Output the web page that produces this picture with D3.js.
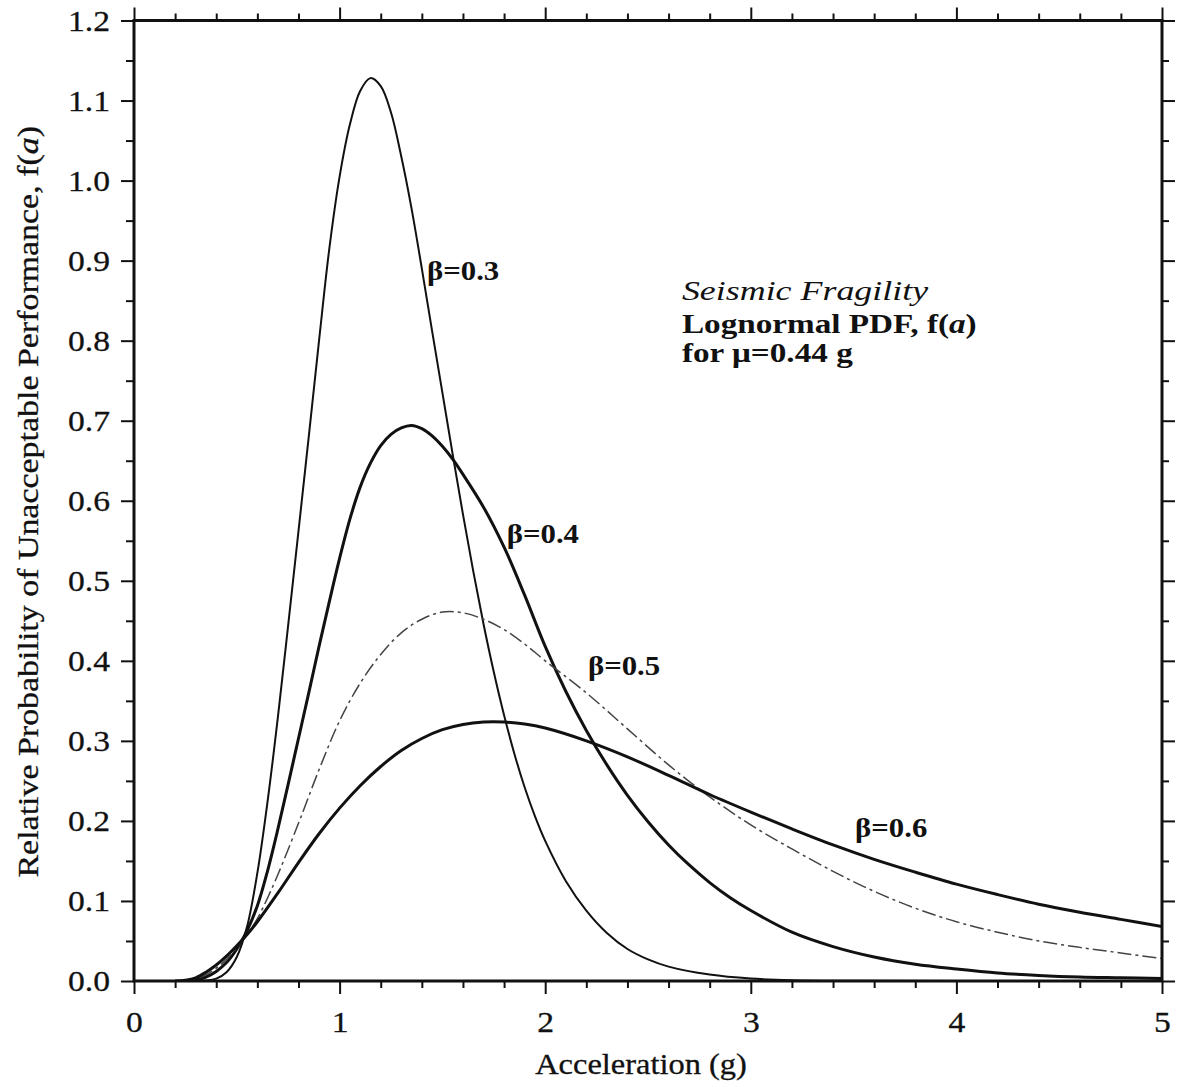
<!DOCTYPE html>
<html>
<head>
<meta charset="utf-8">
<script src="https://cdn.jsdelivr.net/npm/d3@7"></script>
<style>
  body { margin: 0; background: #fff; }
  text { font-family: "Liberation Serif", "Times New Roman", serif; fill: #111; }
</style>
</head>
<body>
<div id="chart"></div>
<script>
// values
const accel03 = [0.3, 0.35, 0.4, 0.45, 0.5, 0.55, 0.6, 0.65, 0.7, 0.75, 0.8, 0.85, 0.9, 0.95, 1.0, 1.05, 1.1, 1.15, 1.2, 1.25, 1.3, 1.35, 1.4, 1.45, 1.5, 1.55, 1.6, 1.65, 1.7, 1.75, 1.8, 1.85, 1.9, 1.95, 2.0, 2.1, 2.2, 2.3, 2.4, 2.5, 2.6, 2.8, 3.0, 3.2, 3.5, 4.0, 5.0];
const pdf03 = [0, 0.0005, 0.003, 0.011, 0.03, 0.068, 0.135, 0.225, 0.33, 0.445, 0.562, 0.68, 0.8, 0.915, 1.005, 1.07, 1.112, 1.128, 1.118, 1.085, 1.03, 0.965, 0.89, 0.812, 0.735, 0.658, 0.583, 0.512, 0.446, 0.386, 0.332, 0.284, 0.242, 0.206, 0.175, 0.125, 0.088, 0.06, 0.04, 0.027, 0.018, 0.008, 0.003, 0.001, 0.0003, 0, 0];

const accel04 = [0.25, 0.3, 0.35, 0.4, 0.45, 0.5, 0.55, 0.6, 0.65, 0.7, 0.75, 0.8, 0.85, 0.9, 0.95, 1.0, 1.05, 1.1, 1.15, 1.2, 1.25, 1.3, 1.35, 1.4, 1.45, 1.5, 1.55, 1.6, 1.7, 1.8, 1.9, 2.0, 2.1, 2.2, 2.3, 2.4, 2.5, 2.6, 2.7, 2.8, 2.9, 3.0, 3.2, 3.4, 3.6, 3.8, 4.0, 4.2, 4.4, 4.6, 4.8, 5.0];
const pdf04 = [0, 0.0015, 0.005, 0.012, 0.023, 0.04, 0.063, 0.094, 0.138, 0.19, 0.246, 0.303, 0.36, 0.418, 0.474, 0.528, 0.577, 0.617, 0.647, 0.669, 0.683, 0.691, 0.694, 0.69, 0.681, 0.668, 0.652, 0.633, 0.592, 0.542, 0.482, 0.418, 0.362, 0.313, 0.27, 0.232, 0.199, 0.17, 0.145, 0.123, 0.104, 0.088, 0.061, 0.043, 0.03, 0.021, 0.015, 0.01, 0.007, 0.005, 0.004, 0.003];

const accel05 = [0.2, 0.25, 0.3, 0.35, 0.4, 0.45, 0.5, 0.55, 0.6, 0.65, 0.7, 0.8, 0.9, 1.0, 1.1, 1.2, 1.3, 1.4, 1.5, 1.6, 1.7, 1.8, 1.9, 2.0, 2.2, 2.4, 2.6, 2.8, 3.0, 3.2, 3.4, 3.6, 3.8, 4.0, 4.2, 4.4, 4.6, 4.8, 5.0];
const pdf05 = [0, 0.0005, 0.003, 0.008, 0.016, 0.027, 0.042, 0.058, 0.078, 0.104, 0.133, 0.197, 0.264, 0.325, 0.372, 0.408, 0.435, 0.452, 0.461, 0.46, 0.452, 0.439, 0.421, 0.40, 0.36, 0.315, 0.27, 0.23, 0.195, 0.165, 0.137, 0.112, 0.091, 0.074, 0.061, 0.05, 0.042, 0.035, 0.028];

const accel06 = [0.2, 0.25, 0.3, 0.35, 0.4, 0.45, 0.5, 0.55, 0.6, 0.7, 0.8, 0.9, 1.0, 1.1, 1.2, 1.3, 1.4, 1.5, 1.6, 1.7, 1.8, 1.9, 2.0, 2.2, 2.4, 2.6, 2.8, 3.0, 3.2, 3.4, 3.6, 3.8, 4.0, 4.2, 4.4, 4.6, 4.8, 5.0];
const pdf06 = [0, 0.001, 0.004, 0.011, 0.02, 0.031, 0.044, 0.058, 0.074, 0.11, 0.148, 0.184, 0.216, 0.244, 0.268, 0.288, 0.303, 0.314, 0.3205, 0.3235, 0.3235, 0.321, 0.316, 0.3, 0.28, 0.257, 0.233, 0.211, 0.19, 0.17, 0.152, 0.136, 0.121, 0.108, 0.096, 0.086, 0.077, 0.068];

const seriesNames = ["β=0.3", "β=0.4", "β=0.5", "β=0.6"];
const xTickValues = [0, 1, 2, 3, 4, 5];
const yTickValues = [0, 0.1, 0.2, 0.3, 0.4, 0.5, 0.6, 0.7, 0.8, 0.9, 1.0, 1.1, 1.2];

function initChart() {
    const margin = { top: 20.5, right: 30, bottom: 106, left: 134 },
        width = 1192 - margin.left - margin.right,
        height = 1087 - margin.top - margin.bottom;

    const svg = d3.select("#chart")
        .append("svg")
        .attr("width", width + margin.left + margin.right)
        .attr("height", height + margin.top + margin.bottom)
        .append("g")
        .attr("transform", "translate(" + margin.left + "," + margin.top + ")");

    const xScale = d3.scaleLinear().domain([0, 5]).range([0, width]);
    const yScale = d3.scaleLinear().domain([0, 1.2]).range([height, 0]);

    const xMinor = d3.range(0, 5.001, 0.2).filter(v => Math.abs(v - Math.round(v)) > 1e-6);
    const yMinor = d3.range(0.05, 1.2, 0.1);

    function tickStyle(g) {
        g.select(".domain").remove();
        g.selectAll("line").attr("stroke", "#111").attr("stroke-width", 2);
    }

    // the original type is wider than Times, so text gets a horizontal stretch
    const kTick = 1.12;

    // major + minor ticks on all four sides, pointing outward
    svg.append("g").attr("transform", "translate(0," + height + ")")
        .call(d3.axisBottom(xScale).tickValues(xMinor).tickSize(7).tickFormat(""))
        .call(tickStyle);
    const xAxis = svg.append("g").attr("transform", "translate(0," + height + ")")
        .call(d3.axisBottom(xScale).tickValues(xTickValues).tickSize(13).tickPadding(17).tickFormat(d3.format("d")))
        .call(tickStyle);
    xAxis.selectAll("text")
        .style("font-size", "30px")
        .style("stroke", "#111").style("stroke-width", 0.3)
        .attr("transform", `scale(${kTick},1)`);

    svg.append("g")
        .call(d3.axisTop(xScale).tickValues(xMinor).tickSize(7).tickFormat(""))
        .call(tickStyle);
    svg.append("g")
        .call(d3.axisTop(xScale).tickValues(xTickValues).tickSize(13).tickFormat(""))
        .call(tickStyle);

    svg.append("g")
        .call(d3.axisLeft(yScale).tickValues(yMinor).tickSize(8).tickFormat(""))
        .call(tickStyle);
    const yAxis = svg.append("g")
        .call(d3.axisLeft(yScale).tickValues(yTickValues).tickSize(13).tickFormat(d3.format(".1f")))
        .call(tickStyle);
    yAxis.selectAll("text")
        .style("font-size", "30px")
        .style("stroke", "#111").style("stroke-width", 0.3)
        .attr("x", -24 / kTick)
        .attr("transform", `scale(${kTick},1)`);

    svg.append("g").attr("transform", "translate(" + width + ",0)")
        .call(d3.axisRight(yScale).tickValues(yMinor).tickSize(7).tickFormat(""))
        .call(tickStyle);
    svg.append("g").attr("transform", "translate(" + width + ",0)")
        .call(d3.axisRight(yScale).tickValues(yTickValues).tickSize(13).tickFormat(""))
        .call(tickStyle);

    // curves
    svg.append("clipPath").attr("id", "plot-clip")
        .append("rect").attr("width", width).attr("height", height);

    const series = [
        { name: seriesNames[0], xs: accel03, ys: pdf03, width: 2, dash: null, color: "#111" },
        { name: seriesNames[1], xs: accel04, ys: pdf04, width: 3, dash: null, color: "#111" },
        { name: seriesNames[2], xs: accel05, ys: pdf05, width: 1.5, dash: "14,4,3,4", color: "#444" },
        { name: seriesNames[3], xs: accel06, ys: pdf06, width: 3, dash: null, color: "#111" }
    ];

    const line = d3.line()
        .x(d => xScale(d[0]))
        .y(d => yScale(Math.max(0, d[1])))
        .curve(d3.curveCatmullRom.alpha(0.5));

    series.forEach(s => {
        svg.append("path")
            .datum(s.xs.map((x, i) => [x, s.ys[i]]))
            .attr("clip-path", "url(#plot-clip)")
            .attr("fill", "none")
            .attr("stroke", s.color)
            .attr("stroke-width", s.width)
            .attr("stroke-dasharray", s.dash)
            .attr("stroke-linejoin", "round")
            .attr("d", line);
    });

    // frame
    svg.append("rect")
        .attr("x", 0).attr("y", 0)
        .attr("width", width).attr("height", height)
        .attr("fill", "none")
        .attr("stroke", "#111")
        .attr("stroke-width", 3);

    function stretchedText(x, y, size, k, weight) {
        return svg.append("g")
            .attr("transform", "translate(" + x + "," + y + ")")
            .append("text")
            .attr("transform", `scale(${k},1)`)
            .style("font-size", size + "px")
            .style("font-weight", weight || "normal");
    }

    // curve labels (data coordinates of each label's left baseline)
    const labelSpots = [[1.425, 0.876], [1.813, 0.547], [2.208, 0.382], [3.507, 0.18]];
    seriesNames.forEach((name, i) => {
        stretchedText(xScale(labelSpots[i][0]), yScale(labelSpots[i][1]), 28, 1.1, "bold").text(name);
    });

    // annotation block
    const noteX = xScale(2.665);
    stretchedText(noteX, yScale(0.851), 27, 1.33).style("font-style", "italic").text("Seismic Fragility");
    const l2 = stretchedText(noteX, yScale(0.81), 27, 1.23, "bold");
    l2.append("tspan").text("Lognormal PDF, f(");
    l2.append("tspan").style("font-style", "italic").text("a");
    l2.append("tspan").text(")");
    stretchedText(noteX, yScale(0.773), 27, 1.23, "bold").text("for μ=0.44 g");

    // axis titles
    stretchedText(width / 2 - 7, height + 93, 29, 1.12)
        .attr("text-anchor", "middle")
        .style("stroke", "#111").style("stroke-width", 0.3)
        .text("Acceleration (g)");

    const yTitle = svg.append("g")
        .attr("transform", "translate(" + (38 - margin.left) + "," + (height / 2 + 1) + ") rotate(-90)")
        .append("text")
        .attr("transform", "scale(1.17,1)")
        .attr("text-anchor", "middle")
        .style("stroke", "#111").style("stroke-width", 0.3)
        .style("font-size", "29px");
    yTitle.append("tspan").text("Relative Probability of Unacceptable Performance, f(");
    yTitle.append("tspan").style("font-style", "italic").text("a");
    yTitle.append("tspan").text(")");
}
window.onload = initChart;
</script>
</body>
</html>
